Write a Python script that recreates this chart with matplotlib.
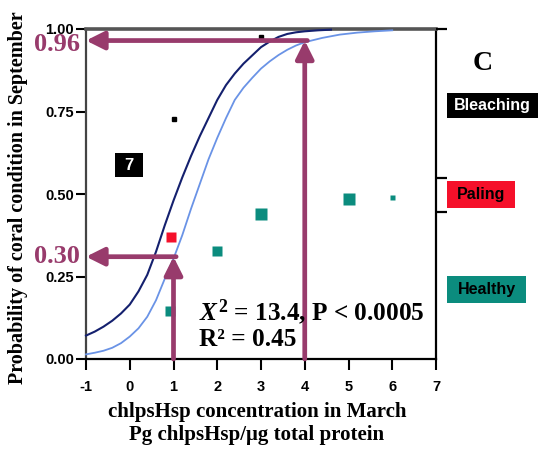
import matplotlib
matplotlib.use("Agg")
import matplotlib.pyplot as plt
from matplotlib.patches import Rectangle
from matplotlib.transforms import blended_transform_factory

# ---------------- data ----------------
fit_dark_x = [-1.0, -0.8, -0.6, -0.4, -0.2, 0.0, 0.2, 0.4, 0.6, 0.8, 1.0, 1.2, 1.4, 1.6,
              1.8, 2.0, 2.2, 2.4, 2.6, 2.8, 3.0, 3.2, 3.4, 3.6, 3.8, 4.0, 4.3, 4.6]
fit_dark_y = [0.071, 0.083, 0.098, 0.116, 0.138, 0.165, 0.205, 0.255, 0.325, 0.405, 0.48,
              0.55, 0.615, 0.675, 0.73, 0.785, 0.83, 0.865, 0.895, 0.92, 0.945, 0.962,
              0.976, 0.985, 0.99, 0.993, 0.996, 0.998]
fit_light_x = [-1.0, -0.8, -0.6, -0.4, -0.2, 0.0, 0.2, 0.4, 0.6, 0.8, 1.0, 1.2, 1.4, 1.6,
               1.8, 2.0, 2.2, 2.4, 2.6, 2.8, 3.0, 3.2, 3.4, 3.6, 3.8, 4.0, 4.4, 4.8, 5.2,
               5.6, 6.0]
fit_light_y = [0.014, 0.019, 0.025, 0.034, 0.048, 0.068, 0.093, 0.128, 0.178, 0.243, 0.304,
               0.375, 0.455, 0.53, 0.605, 0.67, 0.73, 0.785, 0.822, 0.852, 0.88, 0.902,
               0.921, 0.937, 0.95, 0.96, 0.973, 0.983, 0.989, 0.993, 0.996]

bleach_x = [1.0, 3.0]
bleach_y = [0.727, 0.975]
paling_x = [0.95]
paling_y = [0.37]
healthy_x = [0.92, 2.0, 3.0, 5.0, 6.0]
healthy_y = [0.146, 0.327, 0.438, 0.484, 0.492]

guide_x = [1, 4]
guide_y = [0.31, 0.965]
guide_labels = ["0.30", "0.96"]

xticks = [-1, 0, 1, 2, 3, 4, 5, 6, 7]
yticks = [0.0, 0.25, 0.5, 0.75, 1.0]
ytick_labels = ["0.00", "0.25", "0.50", "0.75", "1.00"]

condition_labels = ["Bleaching", "Paling", "Healthy"]

# ---------------- style ----------------
W, H, DPI = 539, 449, 100
MAROON = "#983b6c"
TEAL = "#0b8c7e"
RED = "#f5102a"
DARK = "#14206e"
LIGHT = "#6a93e6"
serif = "Liberation Serif"
sans = "Liberation Sans"

plt.rcParams["mathtext.fontset"] = "custom"
plt.rcParams["mathtext.rm"] = "Liberation Serif:bold"
plt.rcParams["mathtext.it"] = "Liberation Serif:italic:bold"
plt.rcParams["mathtext.bf"] = "Liberation Serif:bold"

fig = plt.figure(figsize=(W / DPI, H / DPI), dpi=DPI)
ax = fig.add_axes([86 / W, 1 - 359 / H, 350 / W, 330 / H])
ax.set_xlim(-1, 7)
ax.set_ylim(0, 1)


def px(x, y):
    """figure fraction from pixel coords (origin top-left)"""
    return x / W, 1 - y / H


# curves
ax.plot(fit_dark_x, fit_dark_y, color=DARK, lw=1.5, zorder=3, clip_on=False)
ax.plot(fit_light_x, fit_light_y, color=LIGHT, lw=1.3, zorder=3, clip_on=False)

# points
ax.plot(bleach_x[:1], bleach_y[:1], "s", color="black", ms=3, zorder=4)
ax.plot(bleach_x[1:], bleach_y[1:], "s", color="black", ms=2.2, zorder=4)
ax.plot(paling_x, paling_y, "s", color=RED, ms=7.5, mec="none", zorder=4)
healthy_ms = [7, 7.5, 8, 8, 3.6]
for x, y, m in zip(healthy_x, healthy_y, healthy_ms):
    ax.plot([x], [y], "s", color=TEAL, ms=m, mec="none", zorder=4)

# guide arrows
aprops = dict(arrowstyle="-|>,head_length=1.2,head_width=0.6", color=MAROON, lw=3.4,
              shrinkA=0, shrinkB=0, mutation_scale=9)
trans = blended_transform_factory(ax.transAxes, ax.transData)
label_dy = [0.0, -0.012]
for gx, gy, lab, dy in zip(guide_x, guide_y, guide_labels, label_dy):
    ax.annotate("", xy=(gx, gy), xytext=(gx, 0), arrowprops=aprops, zorder=6,
                annotation_clip=False)
    ax.annotate("", xy=(-1, gy), xytext=(gx + 0.06, gy), arrowprops=aprops, zorder=6,
                annotation_clip=False)
    ax.text(-0.018, gy + dy, lab, transform=trans, ha="right", va="center", color=MAROON,
            fontsize=19, fontweight="bold", family=serif)

# stats text
fig.text(*px(199, 312), r"$X^2$ = 13.4, P < 0.0005", ha="left", va="center",
         fontsize=18.2, fontweight="bold", family=serif, zorder=5)
fig.text(*px(199, 340), "R² = 0.45", ha="left", va="center",
         fontsize=18.2, fontweight="bold", family=serif, zorder=5)

# "7" box
fig.patches.append(Rectangle(px(115, 177), 28 / W, 24 / H, transform=fig.transFigure,
                             facecolor="black", edgecolor="none"))
fig.text(*px(129, 165.5), "7", color="white", ha="center", va="center",
         fontsize=12, fontweight="bold", family=sans)

# spines & ticks
for side in ["left", "bottom", "right"]:
    ax.spines[side].set_linewidth(1.6)
ax.spines["left"].set_color("#444444")
ax.spines["top"].set_color("#555555")
ax.spines["top"].set_linewidth(2.6)
ax.set_xticks(xticks)
ax.set_xticklabels([str(t) for t in xticks])
ax.set_yticks(yticks)
ax.set_yticklabels(ytick_labels)
ax.tick_params(axis="x", direction="out", length=8, width=1.5, pad=7, labelsize=10.5)
ax.tick_params(axis="y", direction="out", length=7, width=1.5, pad=1.5, labelsize=10.5)
for lbl in ax.get_xticklabels() + ax.get_yticklabels():
    lbl.set_fontfamily(sans)
    lbl.set_fontweight("bold")

ax2 = ax.twinx()
ax2.set_ylim(0, 1)
ax2.set_yticks([0.445, 0.548, 1.0])
ax2.set_yticklabels([])
ax2.tick_params(axis="y", direction="out", length=8, width=1.6)
for s in ["left", "top", "bottom", "right"]:
    ax2.spines[s].set_visible(False)

# axis labels
fig.text(*px(18, 198), "Probability of coral condition in September", rotation=90,
         ha="center", va="center", fontsize=14.5, fontweight="bold", family=serif)
fig.text(*px(257, 412), "chlpsHsp concentration in March", ha="center", va="center",
         fontsize=15, fontweight="bold", family=serif)
fig.text(*px(257, 435), "Pg chlpsHsp/μg total protein", ha="center", va="center",
         fontsize=15, fontweight="bold", family=serif)

# panel letter
fig.text(*px(483, 63), "C", ha="center", va="center", fontsize=20, fontweight="bold",
         family=serif)

# condition boxes
boxes = [(447, 93, 91, 25, "black", "white"),
         (447, 181, 68, 27, RED, "black"),
         (447, 276, 79, 27, TEAL, "black")]
for (bx, by, bw, bh, fc, tc), lab in zip(boxes, condition_labels):
    fig.patches.append(Rectangle(px(bx, by + bh), bw / W, bh / H,
                                 transform=fig.transFigure, facecolor=fc, edgecolor="none"))
    fig.text(*px(bx + bw / 2, by + bh / 2), lab, ha="center", va="center", color=tc,
             fontsize=11.5, fontweight="bold", family=sans)

fig.savefig("out.png", dpi=DPI)
